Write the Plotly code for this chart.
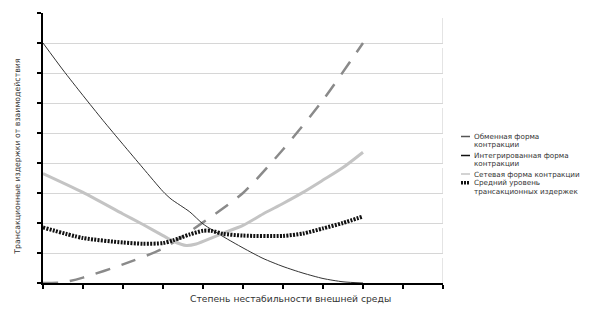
import plotly.graph_objects as go

# Exchange form (grey dashed)
x_exch = [0, 0.5, 1, 2, 3, 4, 5, 6, 7, 8]
y_exch = [0, 0.02, 0.18, 0.62, 1.15, 2.02, 3.0, 4.45, 6.1, 8.0]

# Integrated form (thin black)
x_integ = [0, 0.5, 1, 1.5, 2, 2.5, 3, 3.2, 3.67, 4, 4.5, 5, 5.5, 6, 6.5, 7, 7.5, 8]
y_integ = [8.0, 7.1, 6.25, 5.42, 4.62, 3.83, 3.05, 2.8, 2.37, 1.97, 1.55, 1.17, 0.82, 0.55, 0.33, 0.15, 0.04, 0.0]

# Network form (light grey)
x_net = [0, 1, 2, 2.5, 3, 3.25, 3.58, 3.83, 4.25, 4.5, 5, 5.5, 6, 6.5, 7, 7.5, 8]
y_net = [3.65, 3.02, 2.3, 1.95, 1.58, 1.4, 1.25, 1.3, 1.52, 1.66, 1.92, 2.3, 2.65, 3.02, 3.43, 3.85, 4.36]

# Average transaction cost level (black dotted)
x_avg = [0, 1, 2, 2.5, 3, 3.25, 3.67, 4, 4.2, 4.5, 5, 6, 6.5, 7, 7.5, 8]
y_avg = [1.85, 1.5, 1.35, 1.31, 1.33, 1.42, 1.62, 1.74, 1.74, 1.64, 1.58, 1.57, 1.65, 1.82, 2.0, 2.22]

legend_labels = [
    ["Обменная форма", "контракции"],
    ["Интегрированная форма", "контракции"],
    ["Сетевая форма контракции"],
    ["Средний уровень", "трансакционных издержек"],
]
x_title = "Степень нестабильности внешней среды"
y_title = "Трансакционные издержки от взаимодействия"

styles = [
    dict(color="#8a8a8a", width=2.5, dash="15px,12px"),
    dict(color="#333333", width=1, dash="solid"),
    dict(color="#c4c4c4", width=3, dash="solid"),
    dict(color="#111111", width=4, dash="2px,1.3px"),
]

fig = go.Figure()
for xs, ys, st in [(x_exch, y_exch, styles[0]), (x_integ, y_integ, styles[1]),
                   (x_net, y_net, styles[2]), (x_avg, y_avg, styles[3])]:
    fig.add_trace(go.Scatter(x=xs, y=ys, mode="lines", line=dict(shape="spline", smoothing=0.7, **st),
                             showlegend=False, hoverinfo="skip"))

# right plot border (faint)
fig.add_shape(type="line", xref="x", yref="y", x0=10, x1=10, y0=0, y1=9,
              line=dict(color="#dcdcdc", width=1.5, dash="25px,5px"), layer="below")

# custom legend
leg_y = [[136.5, 144.3], [155.5, 163.3], [174.0], [182.8, 191.2]]
leg_styles = [
    dict(color="#555555", width=1.5),
    dict(color="#111111", width=1.5),
    dict(color="#c4c4c4", width=1.5),
    dict(color="#111111", width=3.5, dash="2px,1px"),
]
for labels, ys, ls in zip(legend_labels, leg_y, leg_styles):
    fig.add_shape(type="line", xref="paper", yref="paper",
                  x0=(461 - 43) / 400, x1=(470 - 43) / 400,
                  y0=(283 - ys[0]) / 270, y1=(283 - ys[0]) / 270, line=ls)
    for lab, yy in zip(labels, ys):
        fig.add_annotation(text=lab, xref="paper", yref="paper",
                           x=(471.5 - 43) / 400, y=(283 - yy) / 270,
                           xanchor="left", yanchor="middle", showarrow=False,
                           font=dict(family="DejaVu Sans", size=7.2, color="#333333"))

fig.add_annotation(text=x_title, xref="paper", yref="paper",
                   x=(290 - 43) / 400, y=(283 - 298) / 270, xanchor="center", yanchor="middle",
                   showarrow=False, font=dict(family="DejaVu Sans", size=9.2, color="#333333"))
fig.add_annotation(text=y_title, xref="paper", yref="paper",
                   x=(16.7 - 43) / 400, y=(283 - 156) / 270, xanchor="center", yanchor="middle",
                   textangle=-90, showarrow=False,
                   font=dict(family="DejaVu Sans", size=7.8, color="#333333"))

fig.update_layout(
    width=611, height=317,
    margin=dict(l=43, r=168, t=13, b=34),
    paper_bgcolor="white", plot_bgcolor="white",
    xaxis=dict(range=[0, 10], dtick=1, tick0=0, showticklabels=False, ticks="outside",
               ticklen=4, tickwidth=1.5, tickcolor="black", showline=True, linecolor="black",
               linewidth=2, showgrid=False, zeroline=False, fixedrange=True),
    yaxis=dict(range=[0, 9], dtick=1, tick0=0, showticklabels=False, ticks="outside",
               ticklen=4, tickwidth=1.5, tickcolor="black", showline=True, linecolor="black",
               linewidth=2, showgrid=True, gridcolor="#d6d6d6", gridwidth=1, zeroline=False,
               fixedrange=True),
)

fig.write_html("out.html", config={"displayModeBar": False})
